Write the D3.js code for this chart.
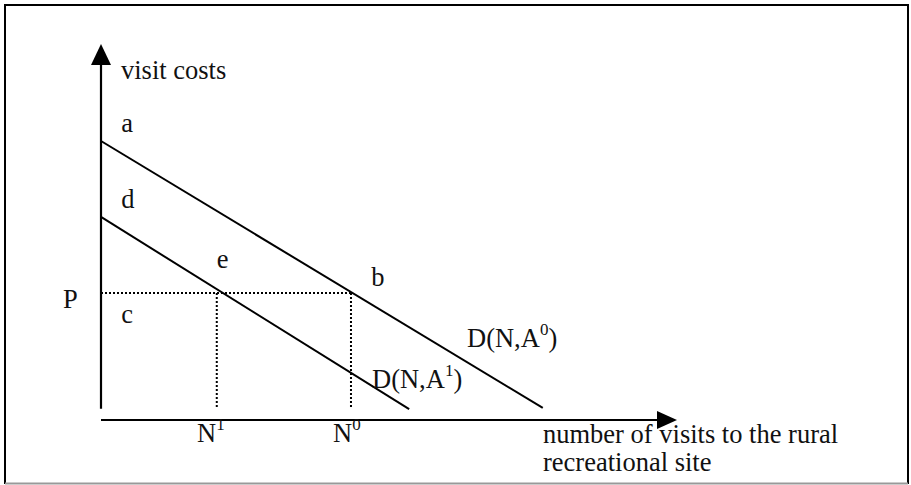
<!DOCTYPE html>
<html>
<head>
<meta charset="utf-8">
<script src="https://cdn.jsdelivr.net/npm/d3@7"></script>
<style>
  html, body { margin: 0; padding: 0; background: #fff; }
  svg { display: block; }
  text { font-family: "Liberation Serif", "Times New Roman", serif; font-size: 26.5px; fill: #111; }
</style>
</head>
<body>
<svg id="chart" width="911" height="485"></svg>
<script>
// Abstract diagram units (x: visits, y: cost), both on 0..100
const demandCurves = [
  { name: "A0", x0: 0, y0: 74.2, x1: 76.7, y1: 3.2 },
  { name: "A1", x0: 0, y0: 54.0, x1: 53.5, y1: 2.9 }
];
const priceLevel = 33.8;          // P
const quantities = [
  { name: "N1", x: 20.1 },
  { name: "N0", x: 43.4 }
];
const pointLabels = [
  { t: "a", x: 3.5, y: 76.6 },
  { t: "d", x: 3.5, y: 56.4 },
  { t: "c", x: 3.5, y: 25.8 },
  { t: "e", x: 20.1, y: 40.4 },
  { t: "b", x: 46.9, y: 35.6 }
];
const yAxisLabel = "visit costs";
const xAxisLabel = ["number of visits to the rural", "recreational site"];

const svg = d3.select("#chart");
const x = d3.scaleLinear().domain([0, 100]).range([101, 677]);
const y = d3.scaleLinear().domain([0, 100]).range([420, 44]);

// frame
svg.append("path").attr("d", "M5,484 L5,5 L908,5 L908,484")
  .attr("fill", "none").attr("stroke", "#000").attr("stroke-width", 2);
svg.append("line").attr("x1", 5).attr("x2", 908).attr("y1", 483.5).attr("y2", 483.5)
  .attr("stroke", "#999").attr("stroke-width", 2);

// y axis
svg.append("line").attr("x1", x(0)).attr("x2", x(0)).attr("y1", y(3.0)).attr("y2", y(95))
  .attr("stroke", "#000").attr("stroke-width", 2.2);
svg.append("path")
  .attr("d", `M${x(0)},${y(100)} L${x(0) - 10},${y(100) + 21} L${x(0) + 10},${y(100) + 21} Z`)
  .attr("fill", "#000");

// x axis
svg.append("line").attr("x1", x(0)).attr("x2", x(97)).attr("y1", y(0)).attr("y2", y(0))
  .attr("stroke", "#000").attr("stroke-width", 2.2);
svg.append("path")
  .attr("d", `M${x(100)},${y(0)} L${x(100) - 20},${y(0) - 9} L${x(100) - 20},${y(0) + 9} Z`)
  .attr("fill", "#000");

// dotted guides
const dot = { "stroke": "#000", "stroke-width": 2, "stroke-dasharray": "2,2" };
const hline = svg.append("line").attr("x1", x(0)).attr("x2", x(quantities[1].x))
  .attr("y1", y(priceLevel)).attr("y2", y(priceLevel));
Object.entries(dot).forEach(([k, v]) => hline.attr(k, v));
quantities.forEach(q => {
  const l = svg.append("line").attr("x1", x(q.x)).attr("x2", x(q.x))
    .attr("y1", y(priceLevel)).attr("y2", y(3.0));
  Object.entries(dot).forEach(([k, v]) => l.attr(k, v));
});

// demand curves
demandCurves.forEach(d => {
  svg.append("line").attr("x1", x(d.x0)).attr("y1", y(d.y0))
    .attr("x2", x(d.x1)).attr("y2", y(d.y1))
    .attr("stroke", "#000").attr("stroke-width", 2);
});

// labels
svg.append("text").attr("x", 121).attr("y", 79).text(yAxisLabel);
pointLabels.forEach(p => {
  svg.append("text").attr("x", x(p.x)).attr("y", y(p.y)).text(p.t);
});
svg.append("text").attr("x", 63).attr("y", 308).text("P");

function subLabel(xp, yp, main, sup, tail) {
  const t = svg.append("text").attr("x", xp).attr("y", yp);
  t.append("tspan").text(main);
  t.append("tspan").attr("dy", -12).attr("font-size", "17px").text(sup);
  if (tail) t.append("tspan").attr("dy", 12).text(tail);
}
subLabel(467, 347, "D(N,A", "0", ")");
subLabel(372, 388, "D(N,A", "1", ")");
subLabel(197, 442, "N", "1", "");
subLabel(333, 442, "N", "0", "");

xAxisLabel.forEach((s, i) => {
  svg.append("text").attr("x", 543).attr("y", 443 + i * 28).text(s);
});
</script>
</body>
</html>
